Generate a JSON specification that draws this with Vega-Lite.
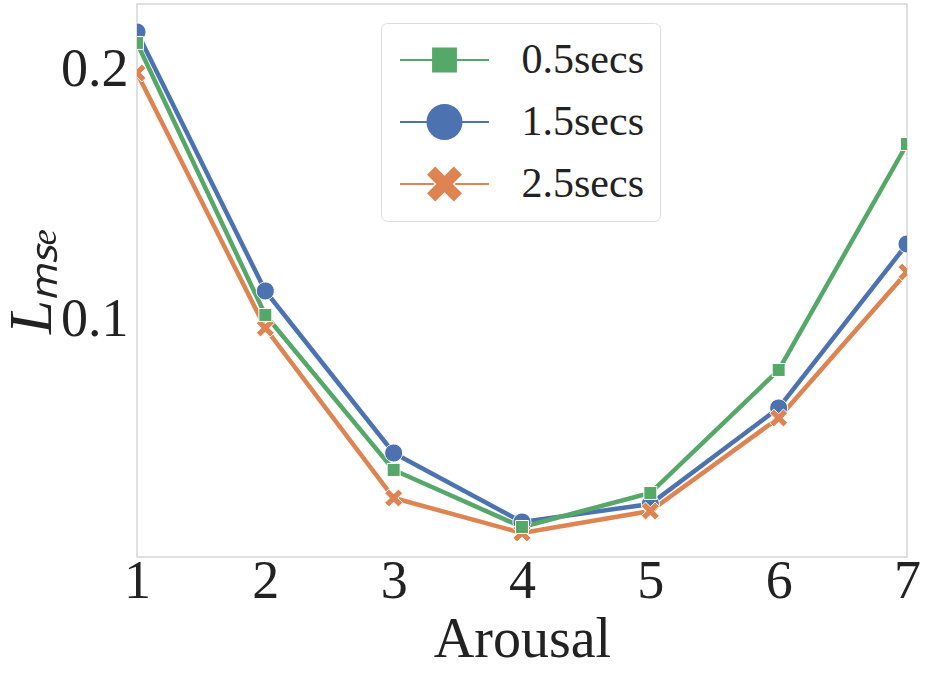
{
  "$schema": "https://vega.github.io/schema/vega-lite/v6.json",
  "width": 770,
  "height": 553,
  "autosize": "none",
  "padding": {"left": 137, "top": 4, "right": 20, "bottom": 118},
  "background": "white",
  "config": {
    "view": {"stroke": "#d6d6d6", "strokeWidth": 1.5},
    "font": "Liberation Serif",
    "axis": {"labelFont": "Liberation Serif", "titleFont": "Liberation Serif"},
    "legend": {"labelFont": "Liberation Serif"}
  },
  "data": {
    "values": [
      {"arousal": 1, "series": "1.5secs", "loss": 0.2148},
      {"arousal": 2, "series": "1.5secs", "loss": 0.1112},
      {"arousal": 3, "series": "1.5secs", "loss": 0.0464},
      {"arousal": 4, "series": "1.5secs", "loss": 0.0188},
      {"arousal": 5, "series": "1.5secs", "loss": 0.026},
      {"arousal": 6, "series": "1.5secs", "loss": 0.0644},
      {"arousal": 7, "series": "1.5secs", "loss": 0.13},
      {"arousal": 1, "series": "2.5secs", "loss": 0.1984},
      {"arousal": 2, "series": "2.5secs", "loss": 0.0964},
      {"arousal": 3, "series": "2.5secs", "loss": 0.0284},
      {"arousal": 4, "series": "2.5secs", "loss": 0.0144},
      {"arousal": 5, "series": "2.5secs", "loss": 0.0232},
      {"arousal": 6, "series": "2.5secs", "loss": 0.0604},
      {"arousal": 7, "series": "2.5secs", "loss": 0.1188},
      {"arousal": 1, "series": "0.5secs", "loss": 0.2104},
      {"arousal": 2, "series": "0.5secs", "loss": 0.1016},
      {"arousal": 3, "series": "0.5secs", "loss": 0.0396},
      {"arousal": 4, "series": "0.5secs", "loss": 0.0168},
      {"arousal": 5, "series": "0.5secs", "loss": 0.0304},
      {"arousal": 6, "series": "0.5secs", "loss": 0.0796},
      {"arousal": 7, "series": "0.5secs", "loss": 0.17}
    ]
  },
  "encoding": {
    "x": {
      "field": "arousal",
      "type": "quantitative",
      "title": "Arousal",
      "scale": {"domain": [1, 7], "nice": false, "zero": false},
      "axis": {
        "values": [1, 2, 3, 4, 5, 6, 7],
        "ticks": false,
        "domain": false,
        "grid": false,
        "labelFontSize": 54,
        "labelColor": "#222222",
        "labelPadding": -3,
        "labelFlush": false,
        "titleFontSize": 56,
        "titleFontWeight": "normal",
        "titleColor": "#222222",
        "titlePadding": 4
      }
    },
    "y": {
      "field": "loss",
      "type": "quantitative",
      "title": "Lₘₛₑ",
      "scale": {"domain": [0.0048, 0.226], "nice": false, "zero": false},
      "axis": {
        "values": [0.1, 0.2],
        "format": ".1f",
        "ticks": false,
        "domain": false,
        "grid": false,
        "labelFontSize": 54,
        "labelColor": "#222222",
        "labelPadding": 9,
        "titleFontSize": 61,
        "titleFontStyle": "italic",
        "titleFontWeight": "normal",
        "titleColor": "#222222",
        "titlePadding": -3
      }
    }
  },
  "layer": [
    {
      "mark": {"type": "line", "strokeWidth": 4.5, "clip": true},
      "encoding": {
        "color": {
          "field": "series",
          "type": "nominal",
          "scale": {"domain": ["0.5secs", "1.5secs", "2.5secs"], "range": ["#55A868", "#4C72B0", "#DD8452"]},
          "legend": null
        }
      }
    },
    {
      "mark": {"type": "point", "filled": true, "opacity": 1, "size": 324, "stroke": "white", "strokeWidth": 1, "clip": true},
      "encoding": {
        "color": {
          "field": "series",
          "type": "nominal",
          "scale": {"domain": ["0.5secs", "1.5secs", "2.5secs"], "range": ["#55A868", "#4C72B0", "#DD8452"]},
          "legend": null
        },
        "shape": {
          "field": "series",
          "type": "nominal",
          "scale": {
            "domain": ["0.5secs", "1.5secs", "2.5secs"],
            "range": [
              "M-0.72,-0.72H0.72V0.72H-0.72Z",
              "M1,0A1,1 0 1,1 -1,0A1,1 0 1,1 1,0Z",
              "M-0.533,1L0,0.467L0.533,1L1,0.533L0.467,0L1,-0.533L0.533,-1L0,-0.467L-0.533,-1L-1,-0.533L-0.467,0L-1,0.533Z"
            ]
          },
          "legend": null
        }
      }
    },
    {
      "mark": {"type": "point", "filled": true, "opacity": 0, "clip": true},
      "encoding": {
        "color": {
          "field": "series",
          "type": "nominal",
          "scale": {"domain": ["0.5secs", "1.5secs", "2.5secs"], "range": ["#55A868", "#4C72B0", "#DD8452"]},
          "legend": {
            "title": null,
            "orient": "none",
            "legendX": 244,
            "legendY": 19,
            "symbolSize": 1296,
            "symbolOffset": 26.5,
            "symbolStrokeWidth": 0,
            "labelFontSize": 42,
            "labelColor": "#222222",
            "labelOffset": 56,
            "rowPadding": 20,
            "padding": 16,
            "strokeColor": "#dddddd",
            "cornerRadius": 6,
            "fillColor": "white",
            "encode": {"symbols": {"update": {"opacity": {"value": 1}}}}
          }
        },
        "shape": {
          "field": "series",
          "type": "nominal",
          "scale": {
            "domain": ["0.5secs", "1.5secs", "2.5secs"],
            "range": [
              "M-2.47,-0.06H-0.66V0.06H-2.47Z M0.66,-0.06H2.47V0.06H0.66Z M-0.69,-0.69H0.69V0.69H-0.69Z",
              "M-2.47,-0.06H-0.95V0.06H-2.47Z M0.95,-0.06H2.47V0.06H0.95Z M1,0A1,1 0 1,1 -1,0A1,1 0 1,1 1,0Z",
              "M-2.47,-0.06H-0.6V0.06H-2.47Z M0.6,-0.06H2.47V0.06H0.6Z M-0.517,0.97L0,0.453L0.517,0.97L0.97,0.517L0.453,0L0.97,-0.517L0.517,-0.97L0,-0.453L-0.517,-0.97L-0.97,-0.517L-0.453,0L-0.97,0.517Z"
            ]
          },
          "legend": {
            "title": null,
            "orient": "none",
            "legendX": 244,
            "legendY": 19,
            "symbolSize": 1296,
            "symbolOffset": 26.5,
            "symbolStrokeWidth": 0,
            "labelFontSize": 42,
            "labelColor": "#222222",
            "labelOffset": 56,
            "rowPadding": 20,
            "padding": 16,
            "strokeColor": "#dddddd",
            "cornerRadius": 6,
            "fillColor": "white",
            "encode": {"symbols": {"update": {"opacity": {"value": 1}}}}
          }
        }
      }
    }
  ],
  "resolve": {"scale": {"color": "independent", "shape": "independent"}}
}
